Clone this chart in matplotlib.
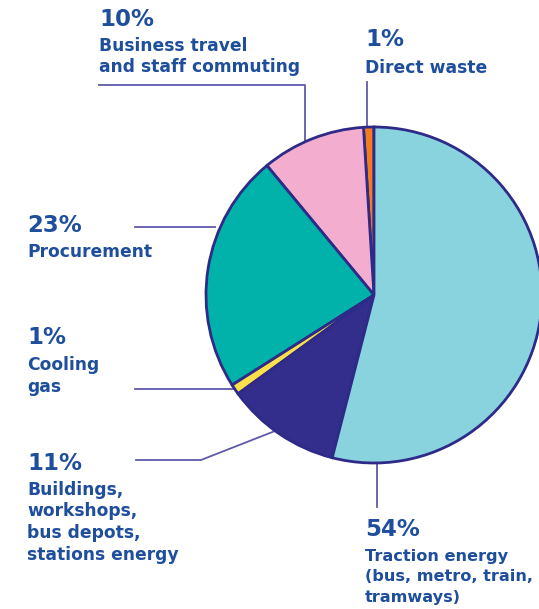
import matplotlib.pyplot as plt

labels = ["Direct waste", "Business travel\nand staff commuting", "Procurement",
          "Cooling\ngas", "Buildings,\nworkshops,\nbus depots,\nstations energy",
          "Traction energy\n(bus, metro, train,\ntramways)"]
values = [1, 10, 23, 1, 11, 54]
colors = ["#f47b20", "#f3aecf", "#00b2aa", "#fbe04a", "#332e8c", "#88d3de"]

H = 609
txt_col = "#1e4e9c"
line_col = "#5f5aa8"

fig = plt.figure(figsize=(5.39, 6.09), dpi=100)
ax = fig.add_axes([0, 0, 1, 1])

# pie (pixel coords, y measured from top of image)
cx, cy, r = 374, 295, 168
ax.pie(values, colors=colors, startangle=90, counterclock=True,
       center=(cx, H - cy), radius=r, frame=True,
       wedgeprops=dict(edgecolor="#2e2a88", linewidth=2.0))
ax.set_xlim(0, 539)
ax.set_ylim(0, H)
ax.set_aspect("equal")
ax.axis("off")

def line(xs, ys):
    ax.plot(xs, [H - y for y in ys], color=line_col, lw=1.3, zorder=0)

# leader lines
line([99, 305, 305], [85, 85, 142])
line([367, 367], [82, 128])
line([135, 215], [227, 227])
line([135, 236], [389, 389])
line([136, 201, 275], [460, 460, 431])
line([377, 377], [462, 507])

def label(x, y_pct, pct, y_txt, text, size=12.3, ls=1.25):
    ax.text(x, H - y_pct, pct, color=txt_col, fontsize=16.5, fontweight="bold",
            va="center", ha="left")
    ax.text(x, H - y_txt, text, color=txt_col, fontsize=size, fontweight="bold",
            va="top", ha="left", linespacing=ls)

label(99, 19, "10%", 37, labels[1])
label(365, 40, "1%", 59, labels[0])
label(27, 225, "23%", 243, labels[2])
label(27, 338, "1%", 356, labels[3])
label(27, 463, "11%", 481, labels[4])
label(365, 530, "54%", 549, labels[5], size=11.6, ls=1.45)

fig.savefig("out.png", dpi=100)
